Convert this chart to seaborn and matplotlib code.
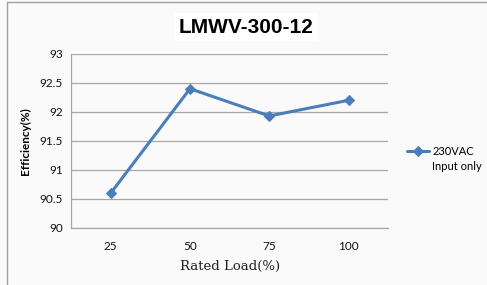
import matplotlib
matplotlib.use("Agg")
import matplotlib.pyplot as plt
import seaborn as sns
import pandas as pd

# datos
carga = ["25", "50", "75", "100"]
eficiencia = [90.6, 92.4, 91.93, 92.2]
ticks_y = [90, 90.5, 91, 91.5, 92, 92.5, 93]
etiquetas_y = ["90", "90.5", "91", "91.5", "92", "92.5", "93"]

df = pd.DataFrame({"carga": carga, "eficiencia": eficiencia})

sns.set_style("white")
plt.rcParams["font.family"] = ["Lato", "DejaVu Sans"]
plt.rcParams["text.color"] = "black"
plt.rcParams["axes.labelcolor"] = "black"
plt.rcParams["xtick.color"] = "black"
plt.rcParams["ytick.color"] = "black"

fig = plt.figure(figsize=(4.87, 2.85), dpi=100)
fig.patch.set_facecolor("#fafafa")
ax = fig.add_axes([0.146, 0.2, 0.651, 0.611])
ax.set_facecolor("#fafafa")

azul = "#4a7ebb"
sns.lineplot(data=df, x="carga", y="eficiencia", ax=ax, color=azul,
             linewidth=2.2, marker="D", markersize=5, markeredgecolor=azul,
             sort=False, label="230VAC")

ax.set_xlim(-0.5, 3.5)
ax.set_ylim(90, 93)
ax.set_yticks(ticks_y)
ax.set_yticklabels(etiquetas_y)
ax.grid(axis="y", color="#a6a6a6", linewidth=0.9)
ax.set_axisbelow(True)
for lado in ["top", "right"]:
    ax.spines[lado].set_visible(False)
for lado in ["left", "bottom"]:
    ax.spines[lado].set_color("#a6a6a6")
    ax.spines[lado].set_linewidth(0.9)
ax.tick_params(axis="y", length=4, color="#a6a6a6", labelcolor="#111111",
               labelsize=8.5, pad=2)
ax.tick_params(axis="x", length=0, labelcolor="#111111", labelsize=8.5, pad=9)

ax.set_ylabel("Efficiency(%)", fontsize=8.5, fontweight="bold", labelpad=6)
ax.set_xlabel("Rated Load(%)", fontsize=9.5, family=["DejaVu Serif"], labelpad=6,
              color="#222222")

fig.text(0.505, 0.905, "LMWV-300-12", ha="center", va="center", fontsize=15,
         fontweight="bold", family=["Liberation Sans", "DejaVu Sans"],
         bbox=dict(facecolor="white", edgecolor="none", pad=3))

leg = ax.legend(loc="center left", bbox_to_anchor=(1.045, 0.44), frameon=False,
                fontsize=8, handlelength=2.0, handletextpad=0.3, borderaxespad=0)
fig.text(0.887, 0.415, "Input only", fontsize=8, va="center")

# marco del grafico
fig.add_artist(plt.Line2D([0.015, 0.015], [0.0, 0.993], color="#a0a0a0", linewidth=1))
fig.add_artist(plt.Line2D([0.015, 1.0], [0.993, 0.993], color="#a0a0a0", linewidth=1))

fig.savefig("out.png", dpi=100, facecolor=fig.get_facecolor())
